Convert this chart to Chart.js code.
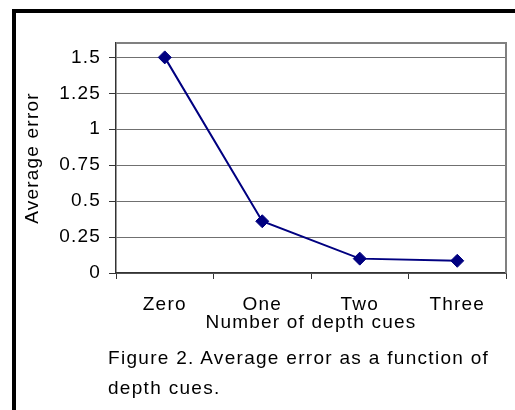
<!DOCTYPE html>
<html>
<head>
<meta charset="utf-8">
<script src="https://cdn.jsdelivr.net/npm/chart.js@4/dist/chart.umd.min.js"></script>
<style>
  html, body { margin: 0; padding: 0; width: 515px; height: 410px; overflow: hidden; background: #fff; }
  #frame { position: absolute; left: 12px; top: 9px; width: 600px; height: 500px; border: 4px solid #000; box-sizing: border-box; }
  #wrap { position: absolute; left: 0; top: 0; width: 515px; height: 410px; }
  #caption { position: absolute; left: 108px; top: 343px; font-family: 'Liberation Sans', Arial, sans-serif; font-size: 19px; line-height: 30px; letter-spacing: 1.3px; color: #000; white-space: nowrap; }
</style>
</head>
<body>
<div id="frame"></div>
<div id="wrap"><canvas id="myChart"></canvas></div>
<div id="caption">Figure 2. Average error as a function of<br>depth cues.</div>
<script>
var categorias = ['Zero', 'One', 'Two', 'Three'];
var erros = [1.5, 0.36, 0.1, 0.085];
var ticksY = [0, 0.25, 0.5, 0.75, 1, 1.25, 1.5];

var fonte = { family: "'Liberation Sans', Arial, sans-serif", size: 19 };

// texto do excel sai mais espaçado
const espacamento = {
    id: 'espacamento',
    beforeUpdate(chart) { chart.ctx.letterSpacing = '1.2px'; },
    beforeDraw(chart) { chart.ctx.letterSpacing = '1.2px'; }
};

// moldura cinza do plot (lados de cima e da direita)
const bordaPlot = {
    id: 'bordaPlot',
    beforeDatasetsDraw(chart) {
        const a = chart.chartArea;
        const ctx = chart.ctx;
        ctx.save();
        ctx.strokeStyle = '#808080';
        ctx.lineWidth = 2;
        ctx.beginPath();
        ctx.moveTo(a.left, a.top);
        ctx.lineTo(a.right, a.top);
        ctx.lineTo(a.right, a.bottom);
        ctx.stroke();
        ctx.restore();
    }
};

const ctx = document.getElementById('myChart').getContext('2d');
const myChart = new Chart(ctx, {
    type: 'line',
    data: {
        labels: categorias,
        datasets: [{
            data: erros,
            borderColor: '#000080',
            backgroundColor: '#000080',
            borderWidth: 2,
            pointStyle: 'rectRot',
            pointRadius: 6.5,
            pointHoverRadius: 6.5,
            pointBorderWidth: 1,
            tension: 0
        }]
    },
    options: {
        responsive: true,
        maintainAspectRatio: false,
        animation: false,
        layout: { padding: { left: 17, right: 9, top: 43, bottom: 76 } },
        plugins: {
            legend: { display: false },
            tooltip: { enabled: false }
        },
        scales: {
            x: {
                offset: true,
                grid: { offset: true, drawOnChartArea: false, drawTicks: true, tickLength: 6, tickColor: '#333' },
                border: { color: '#333', width: 1.5 },
                ticks: { color: '#000', font: fonte, padding: 14, maxRotation: 0 },
                title: { display: true, text: 'Number of depth cues', color: '#000', font: fonte, padding: { top: 0, bottom: 0 } },
                afterFit(scale) { scale.height = 61; }
            },
            y: {
                min: 0,
                max: 1.6,
                grid: { color: '#707070', lineWidth: 1, tickLength: 7, tickColor: '#333' },
                border: { color: '#333', width: 1.5 },
                ticks: {
                    color: '#000',
                    font: fonte,
                    padding: 8,
                    callback: function(v) { return String(v); }
                },
                afterBuildTicks(scale) {
                    scale.ticks = ticksY.map(function(v) { return { value: v }; });
                },
                title: { display: true, text: 'Average error', color: '#000', font: fonte, padding: { top: 4, bottom: 4 } },
                afterFit(scale) { scale.width = 99; }
            }
        }
    },
    plugins: [espacamento, bordaPlot]
});
</script>
</body>
</html>
